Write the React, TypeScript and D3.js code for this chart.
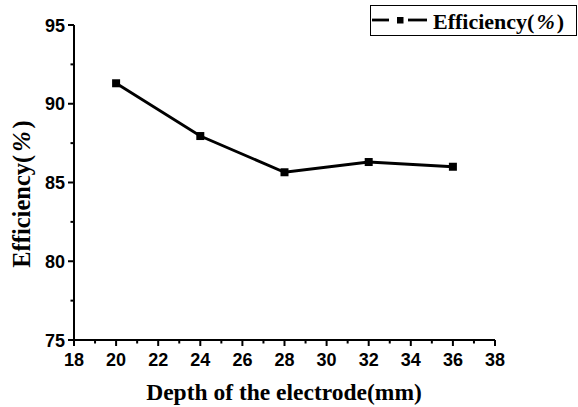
import React from "react";
import * as d3 from "d3";

const depths = [20, 24, 28, 32, 36];
const efficiency = [91.3, 87.95, 85.65, 86.3, 86.0];
const xTicks = [18, 20, 22, 24, 26, 28, 30, 32, 34, 36, 38];
const yTicks = [75, 80, 85, 90, 95];
const xMinor = d3.range(19, 38, 2);
const yMinor = [77.5, 82.5, 87.5, 92.5];
const seriesName = ["Efficiency(", "%", ")"];
const xTitle = "Depth of the electrode(mm)";
const yTitle = ["Efficiency(", "%", ")"];

export default function App() {
  const W = 578, H = 407;
  const x = d3.scaleLinear().domain([18, 38]).range([74, 495]);
  const y = d3.scaleLinear().domain([75, 95]).range([340, 25]);
  const line = d3.line<number>().x((_, i) => x(depths[i])).y((d) => y(d));
  const tickFont = "'Liberation Sans', Arial, sans-serif";
  const titleFont = "'Liberation Serif', 'Times New Roman', serif";
  return (
    <svg width={W} height={H} style={{ position: "absolute", left: 0, top: 0, background: "#fff" }}>
      {/* axes */}
      <line x1={x(18)} x2={x(38)} y1={y(75)} y2={y(75)} stroke="#000" strokeWidth={2} />
      <line x1={x(18)} x2={x(18)} y1={y(75)} y2={y(95)} stroke="#000" strokeWidth={2} />
      {xTicks.map((t) => (
        <g key={"xt" + t}>
          <line x1={x(t)} x2={x(t)} y1={y(75)} y2={y(75) + 6} stroke="#000" strokeWidth={2} />
          <text x={x(t)} y={366} textAnchor="middle" fontFamily={tickFont} fontWeight="bold" fontSize={18}>
            {t}
          </text>
        </g>
      ))}
      {xMinor.map((t) => (
        <line key={"xm" + t} x1={x(t)} x2={x(t)} y1={y(75)} y2={y(75) + 3.5} stroke="#000" strokeWidth={2} />
      ))}
      {yTicks.map((t) => (
        <g key={"yt" + t}>
          <line x1={x(18) - 6} x2={x(18)} y1={y(t)} y2={y(t)} stroke="#000" strokeWidth={2} />
          <text x={65} y={y(t) + 6.5} textAnchor="end" fontFamily={tickFont} fontWeight="bold" fontSize={18}>
            {t}
          </text>
        </g>
      ))}
      {yMinor.map((t) => (
        <line key={"ym" + t} x1={x(18) - 3.5} x2={x(18)} y1={y(t)} y2={y(t)} stroke="#000" strokeWidth={2} />
      ))}
      {/* series */}
      <path d={line(efficiency) || ""} fill="none" stroke="#000" strokeWidth={2.8} />
      {efficiency.map((v, i) => (
        <rect key={"m" + i} x={x(depths[i]) - 4} y={y(v) - 4} width={8} height={8} fill="#000" />
      ))}
      {/* titles */}
      <text x={284} y={400} textAnchor="middle" fontFamily={titleFont} fontWeight="bold" fontSize={23.5}>
        {xTitle}
      </text>
      <text
        transform={`translate(30,194) rotate(-90)`}
        textAnchor="middle"
        fontFamily={titleFont}
        fontWeight="bold"
        fontSize={24.5}
      >
        {yTitle[0]}
        <tspan dx={3} fontStyle="italic">{yTitle[1]}</tspan>
        <tspan dx={3}>{yTitle[2]}</tspan>
      </text>
      {/* legend */}
      <rect x={370.5} y={5.5} width={206} height={30} fill="#fff" stroke="#000" strokeWidth={1} />
      <line x1={372} x2={389} y1={20} y2={20} stroke="#000" strokeWidth={2.8} />
      <line x1={408} x2={427} y1={20} y2={20} stroke="#000" strokeWidth={2.8} />
      <rect x={397} y={17} width={6.5} height={6.5} fill="#000" />
      <text x={433} y={29} fontFamily={titleFont} fontWeight="bold" fontSize={22}>
        {seriesName[0]}
        <tspan dx={2} fontStyle="italic">{seriesName[1]}</tspan>
        <tspan dx={2}>{seriesName[2]}</tspan>
      </text>
    </svg>
  );
}
